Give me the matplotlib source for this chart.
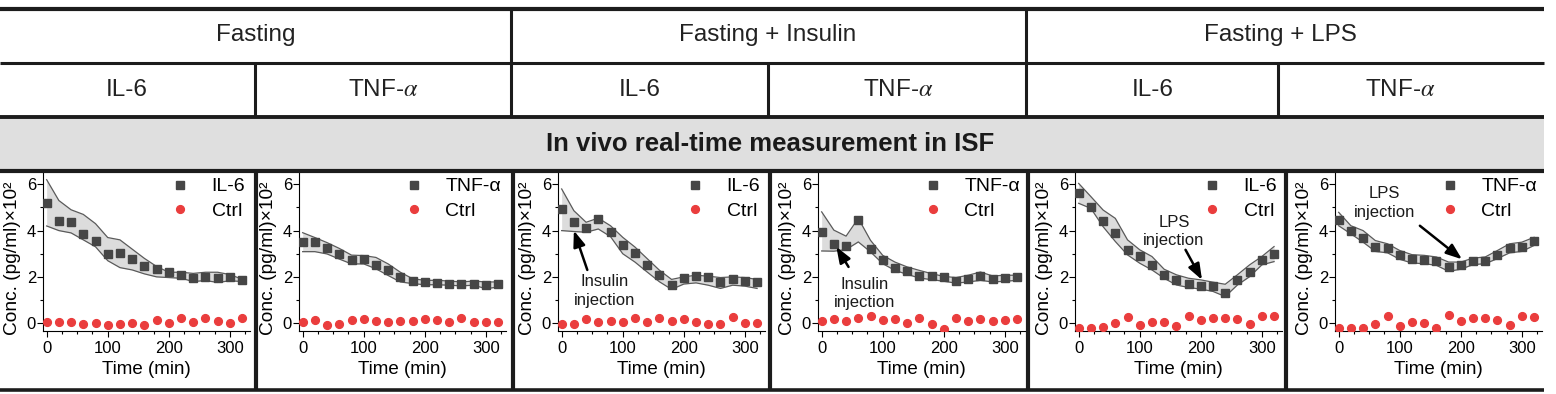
"""In vivo real-time IL-6 / TNF-alpha measurement in ISF: six panels under a table header."""

import matplotlib

matplotlib.use("Agg")
import matplotlib.pyplot as plt
from matplotlib.lines import Line2D
from matplotlib.patches import Rectangle
from matplotlib.ticker import MultipleLocator

plt.rcParams["font.family"] = ["Liberation Sans", "DejaVu Sans"]
plt.rcParams["mathtext.fontset"] = "stix"

# ---- data (conc. in pg/ml x 10^2) ----
TIME = [0, 20, 40, 60, 80, 100, 120, 140, 160, 180, 200, 220, 240, 260, 280, 300, 320]

GROUPS = ["Fasting", "Fasting + Insulin", "Fasting + LPS"]
HEADER_ANALYTES = ["IL-6", r"TNF-$\alpha$"]
LEGEND_ANALYTES = ["IL-6", "TNF-α"]
TITLE = "In vivo real-time measurement in ISF"

F_IL6_MEAN = [5.21, 4.43, 4.39, 3.84, 3.57, 3.01, 3.02, 2.79, 2.47, 2.36, 2.19, 2.09, 1.97, 2.01, 1.97, 2.0, 1.87]
F_IL6_HI = [6.2, 5.3, 4.9, 4.7, 4.3, 3.7, 3.6, 3.2, 2.8, 2.45, 2.2, 2.2, 2.15, 2.2, 2.2, 2.1, 1.9]
F_IL6_LO = [4.2, 4.0, 3.9, 3.6, 3.3, 2.7, 2.4, 2.3, 2.13, 2.0, 1.97, 1.94, 1.8, 1.84, 1.76, 1.83, 1.8]
F_IL6_CTRL = [0.07, 0.04, 0.06, -0.03, 0.0, -0.09, -0.04, -0.01, -0.1, 0.12, -0.01, 0.22, 0.06, 0.22, 0.09, 0.0, 0.24]

F_TNF_MEAN = [3.51, 3.51, 3.24, 2.99, 2.73, 2.77, 2.53, 2.28, 1.99, 1.81, 1.78, 1.75, 1.71, 1.68, 1.71, 1.64, 1.68]
F_TNF_HI = [3.91, 3.7, 3.48, 3.23, 2.94, 2.92, 2.84, 2.56, 2.2, 1.92, 1.85, 1.85, 1.82, 1.78, 1.82, 1.78, 1.78]
F_TNF_LO = [3.09, 3.09, 2.99, 2.77, 2.56, 2.56, 2.35, 2.06, 1.78, 1.71, 1.66, 1.66, 1.64, 1.61, 1.64, 1.49, 1.56]
F_TNF_CTRL = [0.03, 0.14, -0.07, -0.03, 0.14, 0.18, 0.11, 0.07, 0.11, 0.1, 0.18, 0.14, 0.07, 0.21, 0.03, 0.07, 0.03]

I_IL6_MEAN = [4.93, 4.36, 4.11, 4.5, 3.96, 3.36, 3.03, 2.5, 2.07, 1.64, 1.97, 2.03, 2.0, 1.76, 1.9, 1.83, 1.76]
I_IL6_HI = [5.8, 4.86, 4.36, 4.54, 4.21, 3.71, 3.29, 2.79, 2.29, 1.89, 2.0, 2.07, 2.03, 1.97, 2.0, 1.97, 1.89]
I_IL6_LO = [4.0, 3.96, 3.93, 4.07, 3.74, 3.0, 2.64, 2.21, 1.79, 1.46, 1.69, 1.74, 1.64, 1.5, 1.64, 1.6, 1.5]
I_IL6_CTRL = [-0.04, -0.04, 0.19, 0.04, 0.1, 0.04, 0.24, 0.07, 0.21, 0.11, 0.16, 0.04, -0.03, -0.04, 0.27, 0.0, 0.0]

I_TNF_MEAN = [3.95, 3.44, 3.32, 4.45, 3.19, 2.72, 2.38, 2.27, 2.04, 2.02, 1.99, 1.81, 1.89, 2.02, 1.89, 1.94, 1.98]
I_TNF_HI = [4.81, 4.02, 3.76, 4.53, 3.58, 2.93, 2.64, 2.43, 2.28, 2.14, 2.02, 1.97, 2.07, 2.21, 2.04, 2.07, 2.07]
I_TNF_LO = [3.12, 3.11, 3.18, 3.51, 3.08, 2.57, 2.28, 2.11, 1.95, 1.88, 1.81, 1.73, 1.78, 1.85, 1.78, 1.81, 1.85]
I_TNF_CTRL = [0.09, 0.16, 0.1, 0.22, 0.3, 0.14, 0.17, 0.01, 0.22, -0.03, -0.25, 0.22, 0.09, 0.19, 0.09, 0.14, 0.19]

L_IL6_MEAN = [5.64, 5.01, 4.42, 3.88, 3.17, 2.91, 2.52, 2.09, 1.87, 1.7, 1.61, 1.61, 1.3, 1.87, 2.2, 2.71, 2.98]
L_IL6_HI = [6.04, 5.47, 4.89, 4.53, 3.6, 3.17, 2.88, 2.33, 2.09, 1.94, 1.87, 1.77, 1.68, 2.09, 2.52, 2.88, 3.31]
L_IL6_LO = [5.18, 4.96, 4.17, 3.53, 2.95, 2.59, 2.3, 1.94, 1.65, 1.54, 1.47, 1.37, 1.15, 1.65, 2.01, 2.52, 2.66]
L_IL6_CTRL = [-0.19, -0.19, -0.17, 0.0, 0.26, -0.07, 0.07, 0.04, -0.14, 0.29, 0.14, 0.24, 0.24, 0.19, -0.03, 0.29, 0.29]

L_TNF_MEAN = [4.46, 4.0, 3.69, 3.29, 3.26, 2.93, 2.76, 2.74, 2.69, 2.43, 2.5, 2.67, 2.7, 2.96, 3.24, 3.29, 3.53]
L_TNF_HI = [4.79, 4.21, 4.0, 3.57, 3.43, 3.14, 2.96, 2.93, 2.86, 2.64, 2.64, 2.81, 2.86, 3.14, 3.43, 3.5, 3.71]
L_TNF_LO = [4.21, 3.86, 3.5, 3.1, 3.04, 2.76, 2.6, 2.57, 2.5, 2.24, 2.33, 2.53, 2.57, 2.79, 3.04, 3.1, 3.36]
L_TNF_CTRL = [-0.19, -0.19, -0.19, -0.04, 0.29, -0.14, 0.03, -0.01, -0.19, 0.36, 0.1, 0.21, 0.21, 0.14, -0.07, 0.33, 0.27]

# injection notes: (panel index, text, text centre, arrow tail, arrow tip) in data units
NOTES = [
    (2, "Insulin\ninjection", (70, 1.38), (42, 2.3), (20, 4.0)),
    (3, "Insulin\ninjection", (71, 1.28), (44, 2.43), (24, 3.3)),
    (4, "LPS\ninjection", (156, 3.96), (175, 3.17), (202, 1.87)),
    (5, "LPS\ninjection", (75, 5.2), (133, 4.21), (202, 2.76)),
]

PANELS = [
    (F_IL6_MEAN, F_IL6_HI, F_IL6_LO, F_IL6_CTRL),
    (F_TNF_MEAN, F_TNF_HI, F_TNF_LO, F_TNF_CTRL),
    (I_IL6_MEAN, I_IL6_HI, I_IL6_LO, I_IL6_CTRL),
    (I_TNF_MEAN, I_TNF_HI, I_TNF_LO, I_TNF_CTRL),
    (L_IL6_MEAN, L_IL6_HI, L_IL6_LO, L_IL6_CTRL),
    (L_TNF_MEAN, L_TNF_HI, L_TNF_LO, L_TNF_CTRL),
]

# ---- layout (pixels of a 1556x394 canvas) ----
W, H = 1556, 394
RIGHT = 1544
AX_LEFT = [43, 299, 558, 818, 1075, 1335]
AX_W, AX_TOP, AX_BOT = 207, 173, 331

SQ_COLOR = "#464646"
RED = "#ea3d3d"
LINE_C = "#1c1c1c"


def fx(px):
    return px / W


def fy(py):
    return 1 - py / H


def hline(fig, y, lw):
    fig.add_artist(Line2D([0, fx(RIGHT)], [fy(y), fy(y)], color=LINE_C, lw=lw, solid_capstyle="butt"))


def vline(fig, x, y0, y1, lw):
    fig.add_artist(Line2D([fx(x), fx(x)], [fy(y0), fy(y1)], color=LINE_C, lw=lw, solid_capstyle="butt"))


def main() -> None:
    fig = plt.figure(figsize=(W / 100, H / 100), dpi=100)

    # header table
    fig.add_artist(Rectangle((0, fy(170)), fx(RIGHT), (170 - 118) / H, transform=fig.transFigure,
                             facecolor="#dfdfdf", edgecolor="none", zorder=0))
    hline(fig, 8.5, 3.0)
    hline(fig, 63, 2.2)
    hline(fig, 117, 2.8)
    hline(fig, 171, 3.0)
    hline(fig, 390, 2.6)
    for x in [511, 1026]:
        vline(fig, x, 8.5, 117, 2.2)
    for x in [255, 768, 1278]:
        vline(fig, x, 63, 117, 2.2)
    for x in [255.5, 512.5, 769.5, 1027.5, 1286]:
        vline(fig, x, 171, 390, 3.0)

    for g, cx in zip(GROUPS, [256, 768, 1280]):
        fig.text(fx(cx), fy(35), g, ha="center", va="center", fontsize=17.5, color="#222")
    for k, cx in enumerate([127, 383, 640, 898, 1153, 1400]):
        fig.text(fx(cx), fy(90), HEADER_ANALYTES[k % 2], ha="center", va="center", fontsize=17.5, color="#222")
    fig.text(fx(770), fy(144), TITLE, ha="center", va="center", fontsize=18.5, fontweight="bold", color="#1a1a1a")

    # panels
    axes = []
    for i, (mean, hi, lo, ctrl) in enumerate(PANELS):
        ax = fig.add_axes([fx(AX_LEFT[i]), fy(AX_BOT), AX_W / W, (AX_BOT - AX_TOP) / H])
        axes.append(ax)
        ax.fill_between(TIME, lo, hi, color="#dcdcdc", lw=0, zorder=1)
        ax.plot(TIME, hi, color="#5a5a5a", lw=0.9, zorder=2)
        ax.plot(TIME, lo, color="#5a5a5a", lw=0.9, zorder=2)
        ax.plot(TIME, mean, ls="none", marker="s", ms=5.3, color=SQ_COLOR, label=LEGEND_ANALYTES[i % 2], zorder=3)
        ax.plot(TIME, ctrl, ls="none", marker="o", ms=5.6, color=RED, label="Ctrl", zorder=3)

        ax.set_xlim(-6, 333)
        ax.set_ylim(-0.34, 6.49)
        ax.set_xticks([0, 100, 200, 300])
        ax.set_yticks([0, 2, 4, 6])
        ax.xaxis.set_minor_locator(MultipleLocator(25))
        ax.yaxis.set_minor_locator(MultipleLocator(1))
        for s in ["top", "right"]:
            ax.spines[s].set_visible(False)
        for s in ["left", "bottom"]:
            ax.spines[s].set_linewidth(0.8)
        ax.tick_params(which="major", direction="out", length=4, width=0.8, labelsize=12, pad=1)
        ax.tick_params(axis="x", which="major", pad=3)
        ax.tick_params(which="minor", direction="out", length=2.5, width=0.8)
        ax.set_xlabel("Time (min)", fontsize=13.5, labelpad=4)
        ax.set_ylabel("Conc. (pg/ml)×10²", fontsize=13.8)
        ax.yaxis.set_label_coords(-0.105, 0.46)
        ax.legend(loc="upper right", frameon=False, fontsize=14, handlelength=0.8, handletextpad=1.2,
                  borderaxespad=0.0, borderpad=0.25, labelspacing=0.35)

    for idx, text, tpos, tail, tip in NOTES:
        ax = axes[idx]
        ax.text(tpos[0], tpos[1], text, ha="center", va="center", fontsize=12, linespacing=1.3,
                color="#1a1a1a", zorder=4)
        ax.annotate("", xy=tip, xytext=tail,
                    arrowprops=dict(arrowstyle="-|>,head_length=0.8,head_width=0.3", color="black",
                                    lw=1.8, shrinkA=0, shrinkB=0, mutation_scale=12),
                    zorder=4)

    fig.savefig("out.png", dpi=100)
    plt.close(fig)


if __name__ == "__main__":
    main()
